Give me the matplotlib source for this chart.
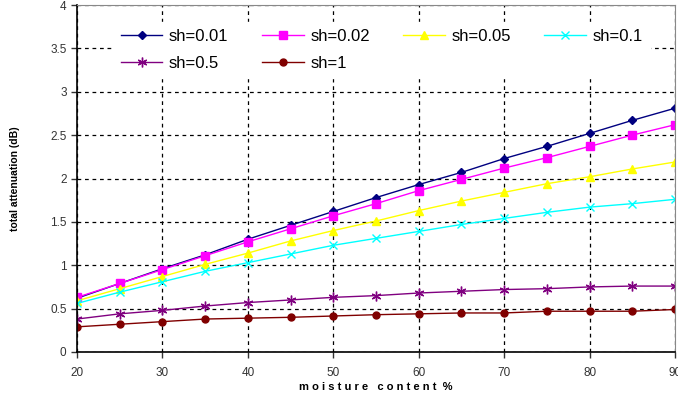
import matplotlib
matplotlib.use("Agg")
import matplotlib.pyplot as plt

# ─── Data ───────────────────────────────────────────────────────────────────
moisture = [20, 25, 30, 35, 40, 45, 50, 55, 60, 65, 70, 75, 80, 85, 90]

att_sh001 = [0.62, 0.79, 0.96, 1.12, 1.30, 1.46, 1.62, 1.78, 1.93, 2.07, 2.23, 2.37, 2.52, 2.67, 2.81]
att_sh002 = [0.63, 0.79, 0.95, 1.11, 1.27, 1.42, 1.57, 1.71, 1.86, 1.99, 2.12, 2.24, 2.37, 2.50, 2.62]
att_sh005 = [0.59, 0.73, 0.87, 1.01, 1.14, 1.28, 1.40, 1.51, 1.63, 1.74, 1.84, 1.94, 2.02, 2.11, 2.19]
att_sh01 = [0.56, 0.69, 0.81, 0.93, 1.03, 1.13, 1.23, 1.31, 1.39, 1.47, 1.54, 1.61, 1.67, 1.71, 1.76]
att_sh05 = [0.38, 0.44, 0.48, 0.53, 0.57, 0.60, 0.63, 0.65, 0.68, 0.70, 0.72, 0.73, 0.75, 0.76, 0.76]
att_sh1 = [0.29, 0.32, 0.35, 0.38, 0.39, 0.40, 0.415, 0.43, 0.44, 0.45, 0.45, 0.47, 0.47, 0.47, 0.49]

series = [
    ("sh=0.01", att_sh001, "#000080", "D", 4),
    ("sh=0.02", att_sh002, "#FF00FF", "s", 5.5),
    ("sh=0.05", att_sh005, "#FFFF00", "^", 5.5),
    ("sh=0.1", att_sh01, "#00FFFF", "x", 5.5),
    ("sh=0.5", att_sh05, "#800080", (6, 2, 0), 7),
    ("sh=1", att_sh1, "#800000", "o", 5),
]

plt.rcParams["font.family"] = ["Liberation Sans", "DejaVu Sans"]

fig = plt.figure(figsize=(6.78, 3.98), dpi=100)
ax = fig.add_axes([77 / 678, 1 - 352 / 398, 598 / 678, 347 / 398])

lines = []
for label, vals, color, marker, ms in series:
    ln, = ax.plot(moisture, vals, color=color, marker=marker, markersize=ms,
                  linewidth=1.0, markeredgewidth=1.0, label=label)
    lines.append(ln)

ax.set_xlim(20, 90)
ax.set_ylim(0, 4)
ax.set_xticks(range(20, 91, 10))
ax.set_yticks([0, 0.5, 1, 1.5, 2, 2.5, 3, 3.5, 4])
ax.set_yticklabels(["0", "0.5", "1", "1.5", "2", "2.5", "3", "3.5", "4"])
ax.tick_params(labelsize=8.5, colors="#333333", length=4, width=1)
ax.tick_params(axis="x", pad=7)
ax.grid(True, color="black", linestyle=(0, (3, 3)), linewidth=0.9)
for s in ["left", "bottom"]:
    ax.spines[s].set_linewidth(1.2)
for s in ["top", "right"]:
    ax.spines[s].set_color("#888888")

ax.set_xlabel("m o i s t u r e   c o n t e n t  %", fontsize=8,
              fontweight="bold", labelpad=2)
ax.set_ylabel("total attenuation (dB)", fontsize=7.5, fontweight="bold", labelpad=22)

# matplotlib fills legend columns first; reorder so rows read like the original
order = [0, 4, 1, 5, 2, 3]
leg = ax.legend([lines[i] for i in order], [series[i][0] for i in order],
                ncol=4, loc="upper left", bbox_to_anchor=(0.048, 0.975),
                frameon=True, fontsize=12, handlelength=2.5,
                columnspacing=2.0, handletextpad=0.4, labelspacing=0.75,
                borderpad=0.4)
leg.get_frame().set_edgecolor("white")
leg.get_frame().set_facecolor("white")
leg.get_frame().set_alpha(1.0)

fig.savefig("out.png", dpi=100)
